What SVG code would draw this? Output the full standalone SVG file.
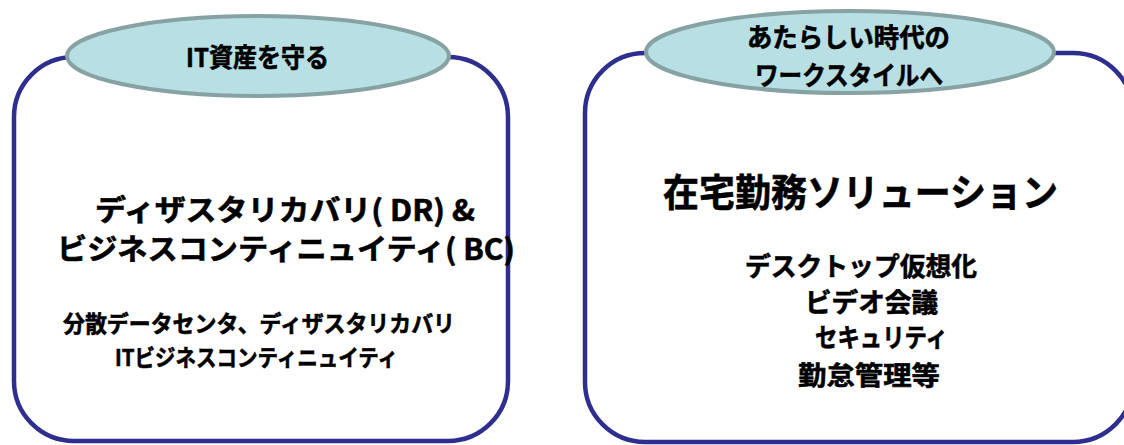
<svg xmlns="http://www.w3.org/2000/svg" width="1124" height="445" viewBox="0 0 1124 445">
  <style>
    .box { fill: #ffffff; stroke: #2e2e8f; stroke-width: 4.5; }
    .tag { fill: #b8dfe3; stroke: #87a2a2; stroke-width: 4; }
    text { font-family: "Noto Sans CJK JP", "Noto Sans", sans-serif; font-weight: 700; fill: #000000; stroke: #000000; stroke-width: 0.6; }
    .t-tag { font-size: 26px; }
    .t-main { font-size: 29px; }
    .t-sub { font-size: 23px; }
    .t-item { font-size: 26px; }
  </style>
  <rect width="1124" height="445" fill="#ffffff" stroke="none"/>
  <g id="node-it-assets">
    <rect class="box" x="14" y="57" width="494" height="384" rx="60" ry="60"/>
    <ellipse class="tag" cx="258" cy="56" rx="191" ry="40"/>
    <text class="t-tag" x="186" y="67" textLength="143" lengthAdjust="spacingAndGlyphs">IT資産を守る</text>
    <text class="t-main" x="95" y="221" textLength="380" lengthAdjust="spacingAndGlyphs">ディザスタリカバリ( DR) &amp;</text>
    <text class="t-main" x="57" y="260" textLength="458" lengthAdjust="spacingAndGlyphs">ビジネスコンティニュイティ( BC)</text>
    <text class="t-sub" x="63" y="332" textLength="392" lengthAdjust="spacingAndGlyphs">分散データセンタ、ディザスタリカバリ</text>
    <text class="t-sub" x="115" y="366" textLength="283" lengthAdjust="spacingAndGlyphs">ITビジネスコンティニュイティ</text>
  </g>
  <g id="node-workstyle">
    <rect class="box" x="585" y="53" width="548" height="389" rx="60" ry="60"/>
    <ellipse class="tag" cx="850" cy="52" rx="204" ry="41"/>
    <text class="t-tag" x="747" y="47" textLength="203" lengthAdjust="spacingAndGlyphs">あたらしい時代の</text>
    <text class="t-tag" x="755" y="85" textLength="188" lengthAdjust="spacingAndGlyphs">ワークスタイルへ</text>
    <text class="t-main" x="663" y="206" textLength="395" lengthAdjust="spacingAndGlyphs" style="font-size:38px">在宅勤務ソリューション</text>
    <text class="t-item" x="745" y="276" textLength="232" lengthAdjust="spacingAndGlyphs">デスクトップ仮想化</text>
    <text class="t-item" x="805" y="312" textLength="133" lengthAdjust="spacingAndGlyphs">ビデオ会議</text>
    <text class="t-item" x="815" y="347" textLength="133" lengthAdjust="spacingAndGlyphs">セキュリティ</text>
    <text class="t-item" x="798" y="385" textLength="142" lengthAdjust="spacingAndGlyphs">勤怠管理等</text>
  </g>
  <g id="connectors"/>
</svg>
